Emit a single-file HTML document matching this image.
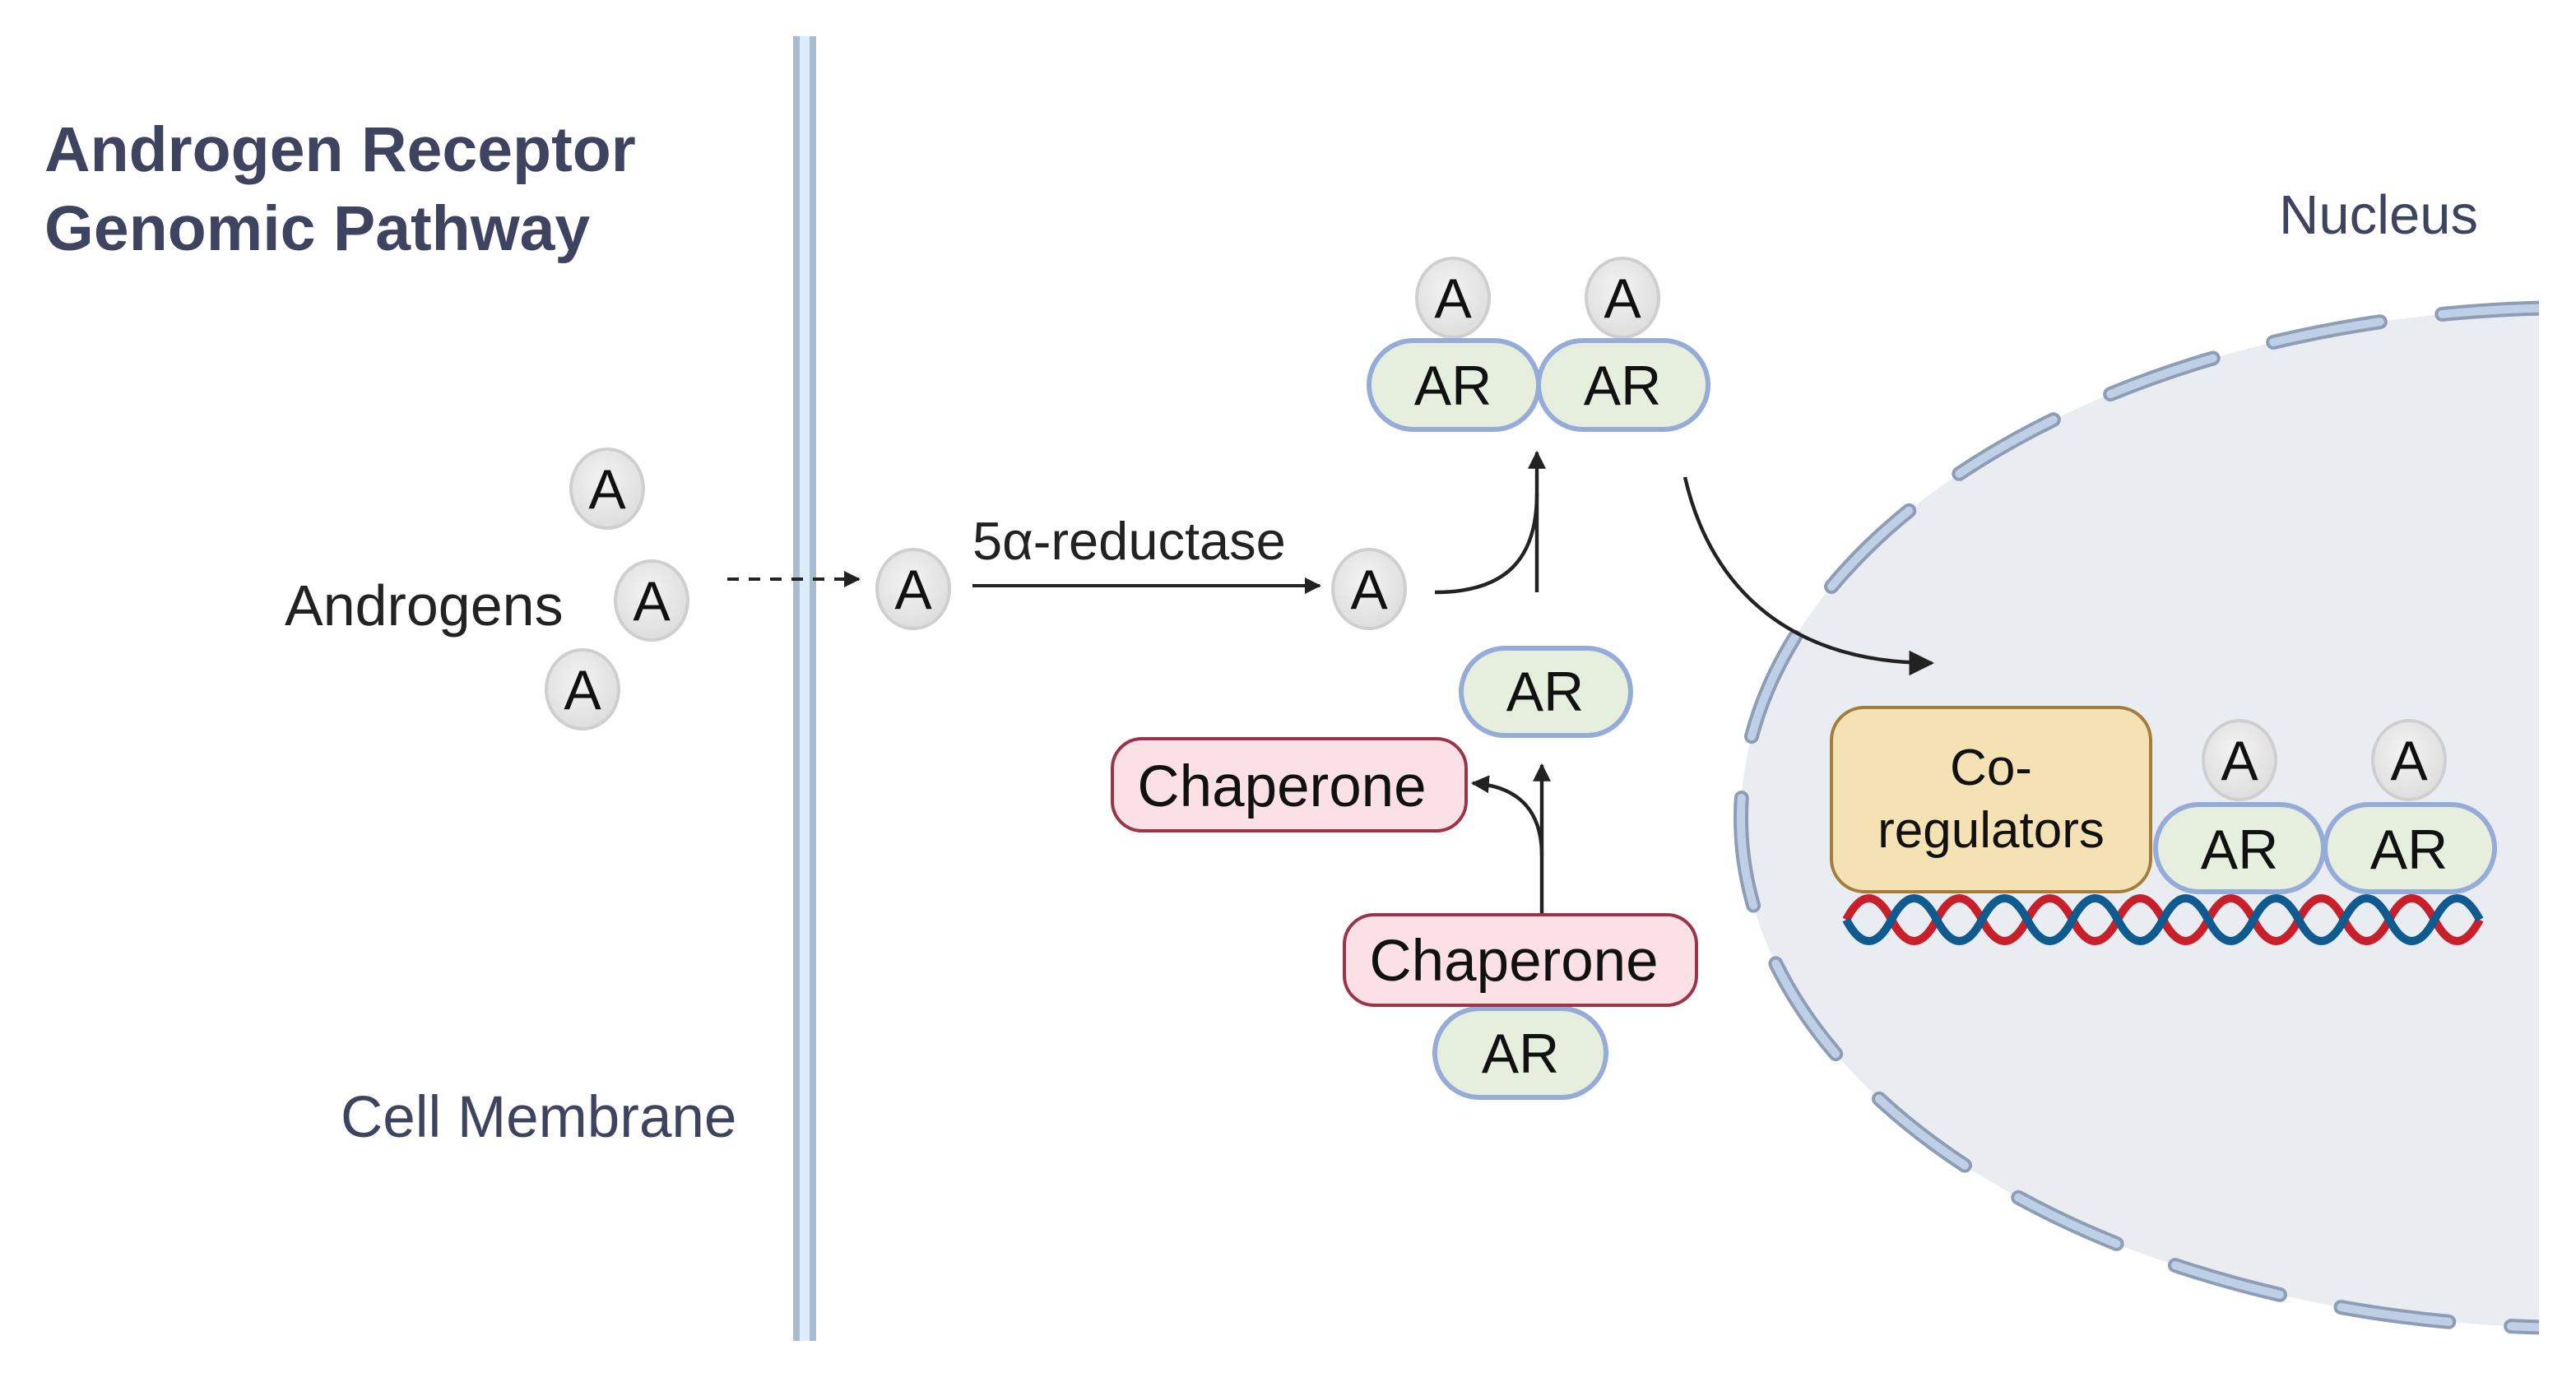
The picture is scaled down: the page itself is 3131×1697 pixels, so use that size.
<!DOCTYPE html>
<html><head><meta charset="utf-8"><style>
html,body{margin:0;padding:0;background:#fff;}
svg{display:block;}
text{font-family:"Liberation Sans",sans-serif;}
</style></head><body>
<svg width="3131" height="1697" viewBox="0 0 1565.5 848.5" xmlns="http://www.w3.org/2000/svg">
<defs>
<marker id="ah" viewBox="0 0 10 10" refX="9" refY="5" markerWidth="5" markerHeight="5" orient="auto"><path d="M0,0 L10,5 L0,10 z" fill="#222"/></marker>
<marker id="ah2" viewBox="0 0 10 10" refX="9" refY="5" markerWidth="7" markerHeight="7" orient="auto"><path d="M0,0 L10,5 L0,10 z" fill="#222"/></marker>
<radialGradient id="ag" cx="0.45" cy="0.4" r="0.6"><stop offset="0" stop-color="#f3f3f3"/><stop offset="1" stop-color="#dedede"/></radialGradient>
<clipPath id="clipN"><rect x="0" y="0" width="1543" height="848"/></clipPath>
</defs>
<rect width="1565.5" height="848.5" fill="#fff"/>

<g clip-path="url(#clipN)">
<ellipse cx="1565" cy="497" rx="507" ry="310" fill="#e9ecf1"/>
<ellipse cx="1565" cy="497" rx="507" ry="310" fill="none" stroke="#8d9db5" stroke-width="9" stroke-dasharray="66 38" stroke-linecap="round"/>
<ellipse cx="1565" cy="497" rx="507" ry="310" fill="none" stroke="#bfcfe5" stroke-width="5" stroke-dasharray="66 38" stroke-linecap="round"/>
</g>

<rect x="482" y="22" width="14" height="793" fill="#dcecfb"/>
<rect x="482" y="22" width="4" height="793" fill="#a9bbcf"/>
<rect x="492" y="22" width="4" height="793" fill="#a9bbcf"/>

<text x="27" y="104" font-size="38.5" font-weight="bold" fill="#3e4360">Androgen Receptor</text>
<text x="27" y="152" font-size="38.5" font-weight="bold" fill="#3e4360">Genomic Pathway</text>
<text x="1385" y="142" font-size="33.5" fill="#3e4360">Nucleus</text>
<text x="207" y="691" font-size="35.5" fill="#3e4360">Cell Membrane</text>
<text x="173" y="380" font-size="35" fill="#222">Androgens</text>

<line x1="442" y1="352" x2="522" y2="352" stroke="#222" stroke-width="2" stroke-dasharray="7 6" marker-end="url(#ah)"/>
<text x="591" y="340" font-size="32.5" fill="#222">5α-reductase</text>
<line x1="591" y1="356" x2="802" y2="356" stroke="#222" stroke-width="2" marker-end="url(#ah)"/>
<path d="M872,360 C915,360 934,340 934,300" fill="none" stroke="#222" stroke-width="2.2"/>
<line x1="934" y1="360" x2="934" y2="275" stroke="#222" stroke-width="2.2" marker-end="url(#ah)"/>
<path d="M1024,290 C1040,360 1090,403 1174,403" fill="none" stroke="#222" stroke-width="2.2" marker-end="url(#ah2)"/>
<line x1="937" y1="555" x2="937" y2="465" stroke="#222" stroke-width="2.2" marker-end="url(#ah)"/>
<path d="M937,520 C937,495 925,478 895,476" fill="none" stroke="#222" stroke-width="2.2" marker-end="url(#ah)"/>

<g stroke="#cfcfcf" stroke-width="2" fill="url(#ag)">
<ellipse cx="369" cy="297" rx="22" ry="24"/>
<ellipse cx="396" cy="365" rx="22" ry="24"/>
<ellipse cx="354" cy="419" rx="22" ry="24"/>
<ellipse cx="555" cy="358" rx="22" ry="24"/>
<ellipse cx="832" cy="358" rx="22" ry="24"/>
<ellipse cx="883" cy="181" rx="22" ry="24"/>
<ellipse cx="986" cy="181" rx="22" ry="24"/>
<ellipse cx="1361" cy="462" rx="22" ry="24"/>
<ellipse cx="1464" cy="462" rx="22" ry="24"/>
</g>
<g font-size="34" fill="#111" text-anchor="middle">
<text x="369" y="309">A</text>
<text x="396" y="377">A</text>
<text x="354" y="431">A</text>
<text x="555" y="370">A</text>
<text x="832" y="370">A</text>
<text x="883" y="193">A</text>
<text x="986" y="193">A</text>
<text x="1361" y="474">A</text>
<text x="1464" y="474">A</text>
</g>

<g fill="#e6eedd" stroke="#95acd8" stroke-width="3">
<rect x="832" y="207" width="103" height="54" rx="27"/>
<rect x="935" y="207" width="103" height="54" rx="27"/>
<rect x="888" y="394" width="103" height="53" rx="26.5"/>
<rect x="872" y="613" width="104" height="54" rx="27"/>
<rect x="1310" y="489" width="102" height="53" rx="26.5"/>
<rect x="1413" y="489" width="103" height="53" rx="26.5"/>
</g>
<g font-size="34" fill="#111" text-anchor="middle">
<text x="883" y="246">AR</text>
<text x="986" y="246">AR</text>
<text x="939" y="432">AR</text>
<text x="924" y="652">AR</text>
<text x="1361" y="528">AR</text>
<text x="1464" y="528">AR</text>
</g>

<rect x="676" y="449" width="215" height="56" rx="18" fill="#fbe1e6" stroke="#9b3448" stroke-width="2"/>
<text x="779" y="490" font-size="35.5" fill="#111" text-anchor="middle">Chaperone</text>
<rect x="817" y="556" width="214" height="55" rx="18" fill="#fbe1e6" stroke="#9b3448" stroke-width="2"/>
<text x="920" y="596" font-size="35.5" fill="#111" text-anchor="middle">Chaperone</text>

<rect x="1113" y="430" width="194" height="112" rx="20" fill="#f4e2b4" stroke="#a47d3c" stroke-width="2"/>
<text x="1210" y="477" font-size="31" fill="#111" text-anchor="middle">Co-</text>
<text x="1210" y="515" font-size="31" fill="#111" text-anchor="middle">regulators</text>

<path d="M1122,559 q13.75,-26 27.5,0 t27.5,0 t27.5,0 t27.5,0 t27.5,0 t27.5,0 t27.5,0 t27.5,0 t27.5,0 t27.5,0 t27.5,0 t27.5,0 t27.5,0 t27.5,0" fill="none" stroke="#c8202a" stroke-width="5"/>
<path d="M1122,559 q13.75,26 27.5,0 t27.5,0 t27.5,0 t27.5,0 t27.5,0 t27.5,0 t27.5,0 t27.5,0 t27.5,0 t27.5,0 t27.5,0 t27.5,0 t27.5,0 t27.5,0" fill="none" stroke="#0f5a8f" stroke-width="5"/>
</svg>
</body></html>
